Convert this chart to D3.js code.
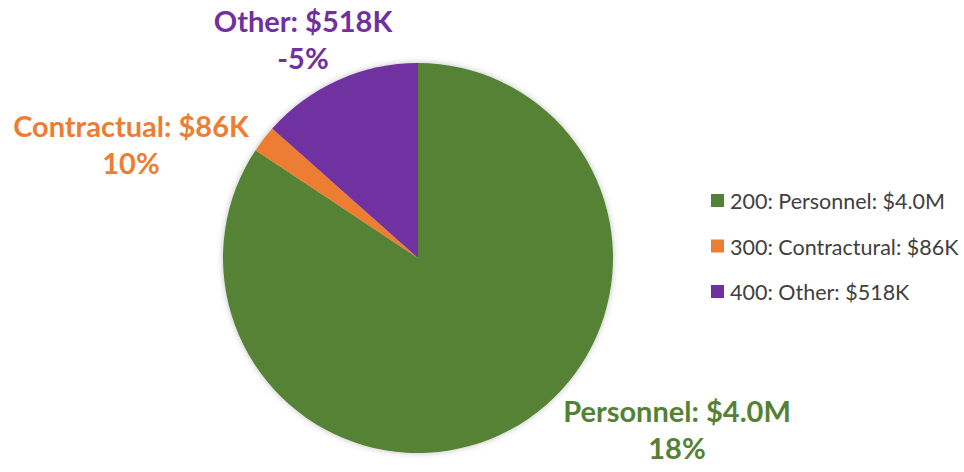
<!DOCTYPE html>
<html>
<head>
<meta charset="utf-8">
<script src="https://cdn.jsdelivr.net/npm/d3@7"></script>
<style>
  body { margin: 0; background: #fff; }
  svg { display: block; font-family: Lato, "Open Sans", sans-serif; }
</style>
</head>
<body>
<div id="container"></div>
<script>
document.addEventListener("DOMContentLoaded", () => {
  // data
  const categories = ["Personnel", "Contractural", "Other"];
  const codes = ["200", "300", "400"];
  const amountLabels = ["$4.0M", "$86K", "$518K"];
  const sliceValues = [3250, 86, 518];   // slice sizes as drawn ($K)
  const pctLabels = ["18%", "10%", "-5%"];
  const dataLabelNames = ["Personnel", "Contractual", "Other"];
  const colors = ["#548235", "#ED7D31", "#7030A0"];

  const width = 964, height = 472;
  const cx = 418, cy = 258, radius = 195;

  const data = categories.map((c, i) => ({
    name: c, code: codes[i], amount: amountLabels[i], value: sliceValues[i],
    pct: pctLabels[i], labelName: dataLabelNames[i], color: colors[i]
  }));

  const svg = d3.select("#container")
    .append("svg")
    .attr("width", width)
    .attr("height", height);

  // soft shadow round the pie
  const defs = svg.append("defs");
  const filter = defs.append("filter")
    .attr("id", "shadow")
    .attr("x", "-10%").attr("y", "-10%")
    .attr("width", "120%").attr("height", "120%");
  filter.append("feDropShadow")
    .attr("dx", 0).attr("dy", 0)
    .attr("stdDeviation", 3)
    .attr("flood-color", "#000")
    .attr("flood-opacity", 0.25);

  const pie = d3.pie().sort(null).value(d => d.value);
  const arc = d3.arc().innerRadius(0).outerRadius(radius);

  const chart = svg.append("g")
    .attr("transform", `translate(${cx},${cy})`)
    .attr("filter", "url(#shadow)");

  chart.selectAll("path")
    .data(pie(data))
    .enter()
    .append("path")
    .attr("d", arc)
    .attr("fill", d => d.data.color);

  // Data labels (placed outside the pie, as in the original)
  const labelPos = [
    { x: 677, y: 422 },
    { x: 131, y: 137 },
    { x: 303, y: 32 }
  ];

  const labels = svg.append("g");
  data.forEach((d, i) => {
    const t = labels.append("text")
      .attr("text-anchor", "middle")
      .attr("fill", d.color)
      .style("font-weight", "bold")
      .style("font-size", "29px");
    t.append("tspan")
      .attr("x", labelPos[i].x)
      .attr("y", labelPos[i].y)
      .text(`${d.labelName}: ${d.amount}`);
    t.append("tspan")
      .attr("x", labelPos[i].x)
      .attr("y", labelPos[i].y + 37)
      .text(d.pct);
  });

  // Legend
  const legend = svg.append("g")
    .attr("id", "legend")
    .attr("transform", "translate(711, 201)");

  const rows = legend.selectAll("g")
    .data(data)
    .enter()
    .append("g")
    .attr("transform", (d, i) => `translate(0, ${i * 45.5})`);

  rows.append("rect")
    .attr("x", 0)
    .attr("y", -7)
    .attr("width", 13)
    .attr("height", 13)
    .attr("fill", d => d.color);

  rows.append("text")
    .attr("x", 19)
    .attr("y", 0)
    .attr("dominant-baseline", "central")
    .attr("fill", "#404040")
    .style("font-size", "21.5px")
    .text(d => `${d.code}: ${d.name}: ${d.amount}`);
});
</script>
</body>
</html>
